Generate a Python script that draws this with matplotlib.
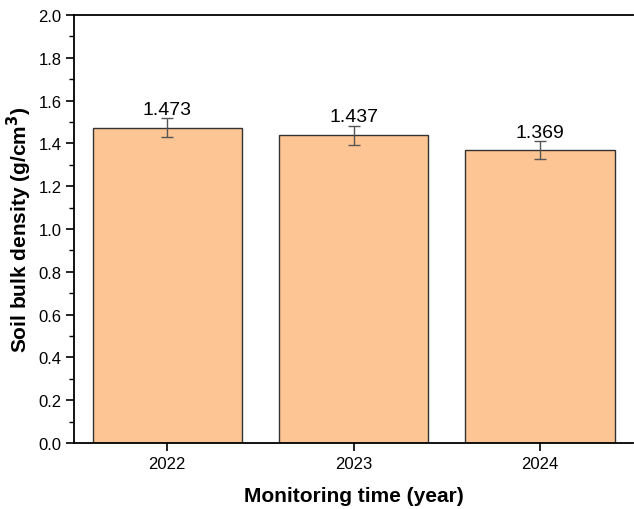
import numpy as np
import matplotlib.pyplot as plt
from matplotlib.ticker import MultipleLocator

plt.rcParams['font.family'] = ['Liberation Sans', 'DejaVu Sans']

### data
years = ['2022', '2023', '2024']
density = [1.473, 1.437, 1.369]
err = [0.044, 0.043, 0.040]

### plot
fig = plt.figure(figsize=(6.34, 5.1), dpi=100)
ax = fig.add_axes([0.1167, 0.1294, 0.882, 0.8392])

x = np.arange(len(years))
ax.bar(x, density, width=0.8, color='#fdc593', edgecolor='#333333', linewidth=1.0,
       yerr=err, error_kw=dict(ecolor='#555555', elinewidth=1.0, capsize=4, capthick=1.0))

for xi, v, e in zip(x, density, err):
    ax.text(xi, v + e + 0.004, '%.3f' % v, ha='center', va='bottom', fontsize=14)

ax.set_xlim(-0.5, 2.5)
ax.set_ylim(0, 2.0)
ax.set_xticks(x)
ax.set_xticklabels(years)
ax.yaxis.set_major_locator(MultipleLocator(0.2))
ax.yaxis.set_minor_locator(MultipleLocator(0.1))
ax.tick_params(axis='both', which='major', labelsize=12, length=6, width=1.2, direction='out', pad=3)
ax.tick_params(axis='y', which='minor', length=3.5, width=1.0)
for s in ['left', 'bottom', 'top']:
    ax.spines[s].set_linewidth(1.3)
ax.spines['right'].set_visible(False)

ax.set_xlabel('Monitoring time (year)', fontsize=15, fontweight='bold', labelpad=11)
ax.set_ylabel('Soil bulk density (g/cm$^\\mathbf{3}$)', fontsize=15, fontweight='bold', labelpad=3)

fig.savefig('out.png', dpi=100)
